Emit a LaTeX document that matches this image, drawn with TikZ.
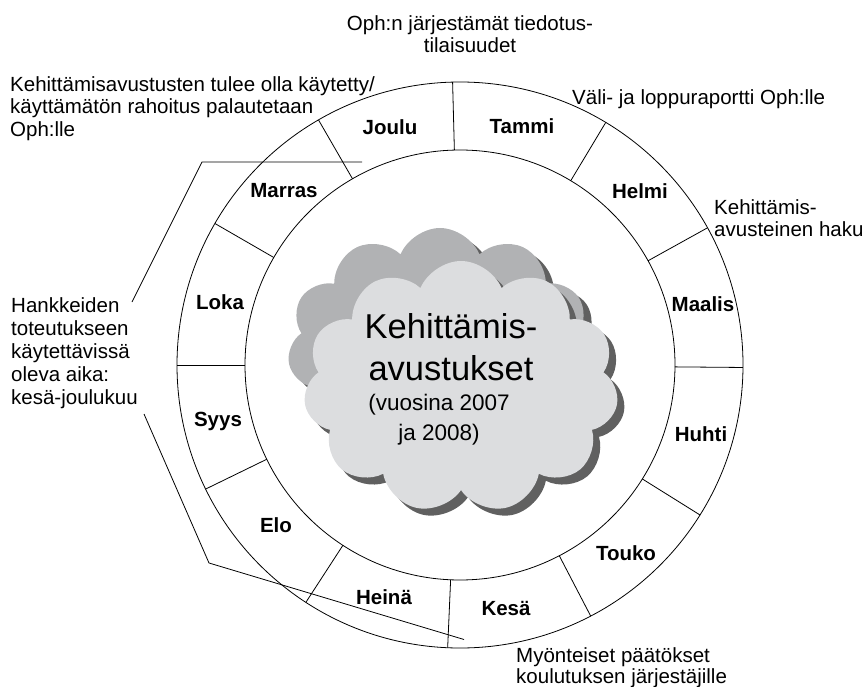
\documentclass[tikz,border=0pt]{standalone}
\usepackage{fontspec}
\setmainfont{Liberation Sans}
\usetikzlibrary{shapes.symbols}
\definecolor{cloudback}{RGB}{177,178,180}
\definecolor{cloudfront}{RGB}{220,221,223}
\definecolor{cloudshade}{RGB}{96,96,96}
\begin{document}
\begin{tikzpicture}[x=1pt,y=-1pt]
\tikzstyle{month}=[inner sep=0pt,anchor=base,font=\fontsize{20.5}{24}\selectfont\bfseries]
\tikzstyle{note}=[inner sep=0pt,anchor=north west,align=left,font=\fontsize{20.5}{22.5}\selectfont]
\tikzstyle{puff}=[cloud,cloud puffs=11,cloud puff arc=135,inner sep=0pt]
\tikzstyle{ring}=[line width=0.8pt]
\useasboundingbox (0,0) rectangle (867,687);
\node [puff,fill=cloudshade,minimum width=305,minimum height=238] (backshade) at (448,354) {};
\node [puff,fill=cloudback,minimum width=305,minimum height=238] (back) at (440,347) {};
\node [puff,fill=cloudshade,minimum width=315,minimum height=252] (frontshade) at (468,394) {};
\node [puff,fill=cloudfront,minimum width=315,minimum height=252] (front) at (461,387) {};
\node [inner sep=0pt,anchor=north,align=center,font=\fontsize{34.5}{42}\selectfont] (title) at (451,313) {Kehittämis-\\avustukset};
\node [inner sep=0pt,anchor=north,align=center,font=\fontsize{22.5}{30}\selectfont] (years) at (439,394) {(vuosina 2007\\ja 2008)};
\coordinate (C) at (460,365);
\draw [ring] (C) circle [radius=283];
\draw [ring] (C) circle [radius=215];
\foreach \a in {-91.5,-59,-29,0.5,32,62.5,92.5,123,154,180,-150,-120}
  \draw [ring] (C) ++(\a:215) -- ++(\a:68);
\foreach \n/\t/\x/\y in {jan/Tammi/522/134, feb/Helmi/640/199, mar/Maalis/703/311, apr/Huhti/701/441, may/Touko/626/560, jun/Kesä/506/615, jul/Heinä/384/604, aug/Elo/276/532, sep/Syys/218/426, oct/Loka/220/309, nov/Marras/284/197, dec/Joulu/390/135}
  \node [month] (\n) at (\x,\y) {\t};
\node [note,anchor=north,align=center] (info) at (470,15) {Oph:n järjestämät tiedotus-\\tilaisuudet};
\node [note] (refund) at (10,76) {Kehittämisavustusten tulee olla käytetty/\\käyttämätön rahoitus palautetaan\\Oph:lle};
\node [note] (report) at (572,89) {Väli- ja loppuraportti Oph:lle};
\node [note] (apply) at (714,199) {Kehittämis-\\avusteinen haku};
\node [note,font=\fontsize{20.5}{23}\selectfont] (period) at (11,297) {Hankkeiden\\toteutukseen\\käytettävissä\\oleva aika:\\kesä-joulukuu};
\node [note,font=\fontsize{20.5}{21}\selectfont] (decision) at (516,647) {Myönteiset päätökset\\koulutuksen järjestäjille};
\coordinate (startA) at (132,302);
\coordinate (bendA) at (202,162);
\coordinate (endA) at (362,162);
\coordinate (startB) at (144,414);
\coordinate (bendB) at (209,563);
\coordinate (endB) at (464,639.5);
\draw [ring] (startA) -- (bendA) -- (endA);
\draw [ring] (startB) -- (bendB) -- (endB);
\end{tikzpicture}
\end{document}
